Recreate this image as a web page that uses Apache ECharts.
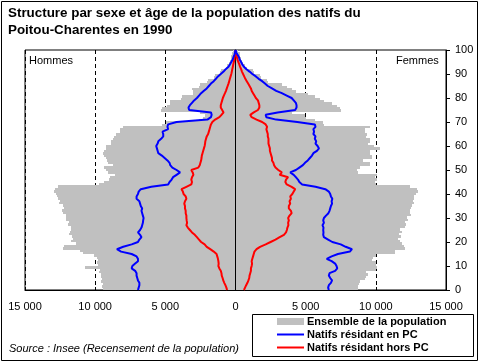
<!DOCTYPE html>
<html><head><meta charset="utf-8">
<script src="https://cdn.jsdelivr.net/npm/echarts@6/dist/echarts.min.js"></script>
<style>html,body{margin:0;padding:0;background:#fff}#c{width:481px;height:363px}</style>
</head><body><div id="c"></div>
<script>
// Ages 0..100 (categories)
const ages = Array.from({length: 101}, (_, i) => i);
// X tick values and labels
const xTickValues = [-15000, -10000, -5000, 0, 5000, 10000, 15000];
const xTickLabels = ['15 000', '10 000', '5 000', '0', '5 000', '10 000', '15 000'];
// Y tick labels (right axis)
const yTickLabels = ['0','10','20','30','40','50','60','70','80','90','100'];

// Ensemble de la population - Hommes (age 0..100)
const menTotal = [
 9450, 9500, 9450, 9550, 9500, 9600, 9550, 9700, 9650, 10750,
 9800, 9900, 9800, 9850, 10050, 10900, 11100, 12300, 12250, 11350,
 11700, 11600, 11650, 11850, 11800, 11700, 11750, 11950, 11900, 12050,
 12100, 12050, 12300, 12350, 12250, 12300, 12550, 12500, 12650, 12700,
 12800, 12900, 12850, 12650, 9700, 9400, 9000, 8950, 8600, 9050,
 9250, 9400, 8750, 9100, 9150, 9250, 9400, 9450, 9400, 9200,
 9250, 8900, 8850, 8700, 8650, 8550, 8250, 8200, 8000, 5250,
 4950, 2600, 2300, 2200, 2500, 5300, 5250, 4900, 4700, 4650,
 3850, 3800, 3050, 3050, 3100, 2600, 2550, 2000, 1950, 1500,
 1450, 1100, 1000, 650, 600, 450, 400, 350, 300, 250, 150];
// Ensemble de la population - Femmes
const womenTotal = [
 8750, 8700, 8800, 8850, 9200, 9300, 9450, 9300, 10000, 10100,
 10000, 10000, 9750, 9800, 10000, 11400, 11350, 12100, 12000, 11900,
 11750, 11600, 11800, 11650, 11850, 11700, 12050, 12150, 12100, 12300,
 12200, 12500, 12400, 12450, 12500, 12600, 12700, 12650, 12700, 12750,
 12850, 13000, 12900, 12450, 10000, 9950, 10100, 9950, 10050, 8700,
 8650, 8900, 9550, 9600, 9100, 9700, 9700, 9550, 9600, 10300,
 9850, 9450, 9550, 9600, 9300, 9350, 9250, 9200, 9600, 6300,
 6250, 5700, 5000, 4950, 4000, 7500, 7450, 7200, 6900, 6300,
 6000, 5650, 5200, 4300, 4000, 3650, 3300, 2300, 2250, 1800,
 1750, 1300, 1250, 800, 700, 500, 450, 400, 350, 300, 150];
// Natifs résidant en PC - Hommes
const menPC = [
 6950, 6900, 6850, 6850, 6950, 7000, 7050, 7050, 7150, 7400,
 7350, 7150, 6950, 6950, 7050, 7400, 8150, 8450, 8000, 7400,
 6950, 6850, 6700, 6800, 6950, 6800, 6700, 6650, 6600, 6580,
 6550, 6600, 6650, 6700, 6650, 6750, 6800, 6850, 7050, 7050,
 6950, 6900, 6750, 6000, 4800, 4700, 4550, 4450, 4200, 3950,
 4200, 4500, 4650, 4700, 4850, 5050, 5250, 5500, 5550, 5600,
 5650, 5550, 5500, 5300, 5150, 5150, 5200, 4800, 4850, 4800,
 4200, 2000, 1750, 1700, 1750, 3300, 3350, 3250, 3100, 2950,
 2750, 2600, 2450, 2250, 2050, 1900, 1750, 1550, 1400, 1250,
 1050, 850, 700, 500, 400, 300, 200, 150, 80, 30, 0];
// Natifs résidant en PC - Femmes
const womenPC = [
 6650, 6600, 6650, 6800, 6880, 6750, 6650, 6700, 7100, 7250,
 7200, 7100, 6850, 6500, 6850, 7300, 8150, 8300, 7850, 7500,
 6900, 6600, 6300, 6250, 6270, 6250, 6270, 6200, 6300, 6250,
 6300, 6450, 6620, 6700, 6750, 6800, 6880, 6850, 6900, 6800,
 6750, 6650, 6400, 5700, 4750, 4550, 4450, 4300, 4150, 3900,
 4300, 4550, 4800, 4950, 5150, 5300, 5450, 5550, 5800, 5950,
 5850, 5700, 5750, 5650, 5700, 5550, 5600, 5550, 5700, 5650,
 4400, 2900, 2200, 2150, 3000, 4250, 4350, 4350, 4300, 4150,
 4000, 3650, 3300, 2900, 2600, 2300, 2100, 1900, 1650, 1450,
 1200, 1000, 780, 600, 480, 400, 300, 250, 150, 50, 0];
// Natifs résidant hors PC - Hommes
const menOut = [
 600, 650, 720, 800, 870, 920, 980, 1000, 1050, 1150,
 1220, 1200, 1220, 1250, 1300, 1350, 1550, 1800, 2050, 2200,
 2450, 2600, 2750, 2900, 3100, 3250, 3400, 3500, 3450, 3480,
 3500, 3500, 3550, 3550, 3600, 3600, 3650, 3600, 3500, 3550,
 3700, 3750, 3850, 3500, 3150, 3100, 3150, 3100, 3000, 3050,
 3150, 2650, 2550, 2500, 2450, 2420, 2400, 2350, 2300, 2250,
 2200, 2170, 2150, 2100, 2050, 1950, 1900, 1850, 1800, 1750,
 1650, 1450, 1150, 1000, 850, 950, 1050, 1050, 1000, 950,
 900, 830, 750, 680, 620, 560, 500, 450, 400, 350,
 300, 260, 230, 190, 160, 120, 80, 60, 30, 10, 0];
// Natifs résidant hors PC - Femmes
const womenOut = [
 600, 680, 760, 850, 920, 980, 1000, 1050, 1100, 1100,
 1150, 1180, 1150, 1200, 1250, 1300, 1350, 1500, 1750, 2150,
 2500, 2850, 3150, 3450, 3600, 3660, 3700, 3770, 3750, 3800,
 3750, 3850, 4000, 3950, 3800, 3800, 3900, 3850, 3950, 3900,
 4050, 4150, 4250, 4000, 3650, 3550, 3600, 3750, 3150, 3300,
 3050, 2850, 2750, 2700, 2600, 2600, 2550, 2500, 2450, 2450,
 2400, 2350, 2350, 2350, 2300, 2300, 2250, 2200, 2250, 2150,
 1900, 1500, 1150, 1050, 1300, 1600, 1700, 1700, 1650, 1600,
 1450, 1350, 1250, 1150, 1100, 1000, 900, 800, 700, 620,
 540, 460, 400, 330, 270, 200, 140, 100, 60, 20, 0];

const F = '"Liberation Sans", Arial, sans-serif';
const NAME_TOTAL = 'Ensemble de la population';
const NAME_PC = 'Natifs résidant en PC';
const NAME_OUT = 'Natifs résidant hors PC';
const legendFont = 'bold 11px "Liberation Sans", Arial';
const GRAY = '#C0C0C0';

// Horizontal bar drawn through the axes' scales, with band edges snapped to pixels
function renderBar(params, api) {
  const v = api.value(0), a = api.value(1);
  const p0 = api.coord([0, a]);
  const p1 = api.coord([v, a]);
  const h = api.size([0, 1])[1];
  const top = Math.round(p0[1] - h / 2);
  const bottom = Math.round(p0[1] + h / 2);
  const x0 = Math.min(p0[0], p1[0]), x1 = Math.max(p0[0], p1[0]);
  return {type: 'rect', shape: {x: Math.round(x0), y: top, width: Math.round(x1) - Math.round(x0), height: bottom - top},
          style: {fill: GRAY}};
}

const chart = echarts.init(document.getElementById('c'), null, {renderer: 'canvas'});
const option = {
  animation: false,
  backgroundColor: '#fff',
  title: {
    text: 'Structure par sexe et âge de la population des natifs du\nPoitou-Charentes en 1990',
    left: 8, top: 5, padding: 0,
    textStyle: {fontFamily: F, fontWeight: 'bold', fontSize: 13.4, lineHeight: 17, color: '#000'}
  },
  grid: {left: 25, right: 35, top: 50, bottom: 73, show: true, borderColor: '#000', borderWidth: 1, backgroundColor: 'transparent'},
  xAxis: {
    type: 'value', min: -15000, max: 15000, interval: 5000,
    axisLine: {show: true, onZero: false, lineStyle: {color: '#000'}},
    axisTick: {show: true, inside: true, length: 3, lineStyle: {color: '#000'}},
    axisLabel: {fontFamily: F, fontSize: 11, color: '#000', margin: 11, showMinLabel: true, showMaxLabel: true,
      formatter: v => { const i = xTickValues.indexOf(v); return i >= 0 ? xTickLabels[i] : ''; }},
    splitLine: {show: true, lineStyle: {color: '#000', type: [4, 3], width: 1}}
  },
  yAxis: [
    {type: 'category', data: ages, z: 5, boundaryGap: true,
     axisLine: {show: true, onZero: true, lineStyle: {color: '#000'}},
     axisTick: {show: false}, axisLabel: {show: false}, splitLine: {show: false}},
    {type: 'value', position: 'right', min: 0, max: 100, interval: 10,
     axisLine: {show: true, onZero: false, lineStyle: {color: '#000'}},
     axisTick: {show: true, length: 4, lineStyle: {color: '#000'}},
     axisLabel: {fontFamily: F, fontSize: 11, color: '#000', margin: 9,
       formatter: v => yTickLabels[Math.round(v / 10)]},
     splitLine: {show: false}}
  ],
  legend: {show: false, data: [NAME_TOTAL, NAME_PC, NAME_OUT]},
  graphic: [
    {type: 'rect', silent: true, z: 100, shape: {x: 1.5, y: 1.5, width: 476, height: 359}, style: {fill: 'none', stroke: '#000', lineWidth: 1}},
    {type: 'rect', silent: true, z: 100, shape: {x: 252.5, y: 314.5, width: 221, height: 42}, style: {fill: 'none', stroke: '#000', lineWidth: 1}},
    {type: 'rect', silent: true, z: 100, shape: {x: 277, y: 318, width: 27, height: 7}, style: {fill: GRAY}},
    {type: 'line', silent: true, z: 100, shape: {x1: 277, y1: 334.5, x2: 304, y2: 334.5}, style: {stroke: '#0000FF', lineWidth: 2}},
    {type: 'line', silent: true, z: 100, shape: {x1: 277, y1: 347.5, x2: 304, y2: 347.5}, style: {stroke: '#FF0000', lineWidth: 2}},
    {type: 'text', silent: true, z: 100, x: 307, y: 322, style: {text: NAME_TOTAL, font: legendFont, fill: '#000', verticalAlign: 'middle'}},
    {type: 'text', silent: true, z: 100, x: 307, y: 335, style: {text: NAME_PC, font: legendFont, fill: '#000', verticalAlign: 'middle'}},
    {type: 'text', silent: true, z: 100, x: 307, y: 348, style: {text: NAME_OUT, font: legendFont, fill: '#000', verticalAlign: 'middle'}},
    {type: 'text', silent: true, z: 100, x: 9, y: 349, style: {text: 'Source : Insee (Recensement de la population)', font: 'italic 11px "Liberation Sans", Arial', fill: '#000', verticalAlign: 'middle'}},
    {type: 'text', silent: true, z: 100, x: 29, y: 61, style: {text: 'Hommes', font: '11px "Liberation Sans", Arial', fill: '#000', verticalAlign: 'middle'}},
    {type: 'text', silent: true, z: 100, x: 396, y: 61, style: {text: 'Femmes', font: '11px "Liberation Sans", Arial', fill: '#000', verticalAlign: 'middle'}}
  ],
  series: [
    {name: NAME_TOTAL, type: 'custom', yAxisIndex: 0, renderItem: renderBar, encode: {x: 0, y: 1}, clip: true,
     itemStyle: {color: GRAY}, data: ages.map((a, i) => [-menTotal[i], a])},
    {name: NAME_TOTAL, type: 'custom', yAxisIndex: 0, renderItem: renderBar, encode: {x: 0, y: 1}, clip: true,
     itemStyle: {color: GRAY}, data: ages.map((a, i) => [womenTotal[i], a])},
    {name: NAME_OUT, type: 'line', yAxisIndex: 1, z: 10, symbol: 'none', color: '#FF0000',
     data: ages.map((a, i) => [-menOut[i], a]), lineStyle: {color: '#FF0000', width: 2}},
    {name: NAME_OUT, type: 'line', yAxisIndex: 1, z: 10, symbol: 'none', color: '#FF0000',
     data: ages.map((a, i) => [womenOut[i], a]), lineStyle: {color: '#FF0000', width: 2}},
    {name: NAME_PC, type: 'line', yAxisIndex: 1, z: 11, symbol: 'none', color: '#0000FF',
     data: ages.map((a, i) => [-menPC[i], a]), lineStyle: {color: '#0000FF', width: 2}},
    {name: NAME_PC, type: 'line', yAxisIndex: 1, z: 11, symbol: 'none', color: '#0000FF',
     data: ages.map((a, i) => [womenPC[i], a]), lineStyle: {color: '#0000FF', width: 2}}
  ]
};
chart.setOption(option);
</script>
</body></html>
